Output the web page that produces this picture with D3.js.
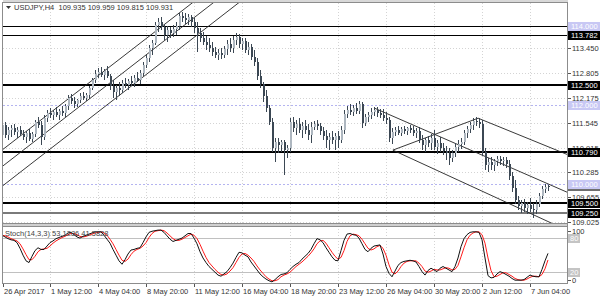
<!DOCTYPE html>
<html>
<head>
<meta charset="utf-8">
<script src="https://cdn.jsdelivr.net/npm/d3@7"></script>
<style>
  body { margin: 0; background: #fff; }
  svg text { font-family: "Liberation Sans", Arial, sans-serif; }
</style>
</head>
<body>
<script>
// ---- data ----
var symbolTitle = "USDJPY,H4  109.935 109.959 109.815 109.931";
var stochTitle = "Stoch(14,3,3) 53.1286 41.5828";

// H4 candles [open, high, low, close]
var candles = [
  [111.23,111.74,110.98,111.49],[111.49,111.56,111.16,111.23],[111.23,111.44,111.11,111.36],[111.36,111.49,111.18,111.41],
  [111.41,111.51,111.23,111.31],[111.31,111.44,111.16,111.36],[111.36,111.46,111.21,111.26],[111.26,111.36,111.11,111.18],
  [111.18,111.34,111.03,111.28],[111.28,111.39,111.08,111.13],[111.13,111.31,111.06,111.26],[111.26,111.61,111.18,111.56],
  [111.56,111.69,111.41,111.49],[111.49,111.59,110.98,111.18],[111.18,111.74,111.11,111.67],[111.67,111.87,111.56,111.79],
  [111.79,111.92,111.67,111.74],[111.74,111.87,111.61,111.82],[111.82,111.94,111.69,111.74],[111.74,111.89,111.61,111.84],
  [111.84,111.97,111.72,111.79],[111.79,112.02,111.69,111.97],[111.97,112.25,111.87,112.17],[112.17,112.27,112.02,112.10],
  [112.10,112.20,111.92,112.02],[112.02,112.15,111.94,112.12],[112.12,112.30,112.05,112.22],[112.22,112.32,112.12,112.17],
  [112.17,112.30,112.10,112.25],[112.25,112.48,112.15,112.43],[112.43,112.68,112.38,112.63],[112.63,112.88,112.55,112.78],
  [112.78,112.93,112.68,112.83],[112.83,112.96,112.71,112.76],[112.76,112.91,112.63,112.86],[112.86,112.99,112.68,112.73],
  [112.73,112.78,112.38,112.48],[112.48,112.63,112.17,112.32],[112.32,112.50,112.12,112.43],[112.43,112.58,112.22,112.38],
  [112.38,112.63,112.30,112.55],[112.55,112.68,112.43,112.50],[112.50,112.65,112.38,112.60],[112.60,112.73,112.48,112.55],
  [112.55,112.76,112.45,112.68],[112.68,112.83,112.58,112.63],[112.63,112.88,112.53,112.81],[112.81,113.09,112.73,113.01],
  [113.01,113.26,112.93,113.19],[113.19,113.52,113.09,113.44],[113.44,113.65,113.26,113.57],[113.57,114.10,113.52,114.03],
  [114.03,114.20,113.85,114.10],[114.10,114.23,113.90,113.97],[113.97,114.05,113.65,113.77],[113.77,114.00,113.59,113.90],
  [113.90,113.97,113.70,113.82],[113.82,114.03,113.72,113.92],[113.92,114.10,113.77,114.00],[114.00,114.33,113.90,114.25],
  [114.25,114.36,114.10,114.20],[114.20,114.33,114.05,114.15],[114.15,114.30,114.03,114.23],[114.23,114.28,113.97,114.10],
  [114.10,114.20,113.82,113.95],[113.95,114.10,113.34,113.82],[113.82,113.95,113.59,113.70],[113.70,113.85,113.52,113.59],
  [113.59,113.75,113.39,113.52],[113.52,113.70,113.34,113.44],[113.44,113.59,113.24,113.34],[113.34,113.47,113.19,113.26],
  [113.26,113.42,113.14,113.31],[113.31,113.44,113.16,113.26],[113.26,113.49,113.19,113.42],[113.42,113.65,113.26,113.54],
  [113.54,113.70,113.34,113.44],[113.44,113.75,113.31,113.65],[113.65,113.82,113.52,113.72],[113.72,113.80,113.44,113.54],
  [113.54,113.70,113.39,113.62],[113.62,113.70,113.31,113.39],[113.39,113.59,113.26,113.47],[113.47,113.54,113.14,113.21],
  [113.21,113.39,112.99,113.09],[113.09,113.19,112.63,112.73],[112.73,112.88,112.43,112.53],[112.53,112.58,112.07,112.22],
  [112.22,112.38,111.82,111.92],[111.92,112.00,111.49,111.56],[111.56,111.67,110.80,110.90],[110.90,111.16,110.55,111.06],
  [111.06,111.16,110.78,110.98],[110.98,111.11,110.80,111.06],[111.06,111.11,110.22,110.85],[110.85,110.98,110.65,110.90],
  [110.90,111.67,110.80,111.56],[111.56,111.69,111.31,111.41],[111.41,111.61,111.23,111.51],[111.51,111.67,111.28,111.36],
  [111.36,111.56,111.16,111.46],[111.46,111.61,111.26,111.36],[111.36,111.51,111.11,111.23],[111.23,111.56,111.03,111.44],
  [111.44,111.59,111.36,111.51],[111.51,111.61,111.36,111.46],[111.46,111.54,111.23,111.34],[111.34,111.44,111.11,111.21],
  [111.21,111.36,110.90,111.11],[111.11,111.28,110.85,111.18],[111.18,111.34,111.01,111.11],[111.11,111.28,110.85,111.21],
  [111.21,111.34,110.90,111.11],[111.11,111.46,111.03,111.36],[111.36,111.87,111.26,111.77],[111.77,111.97,111.67,111.87],
  [111.87,112.02,111.74,111.82],[111.82,112.00,111.72,111.92],[111.92,112.05,111.77,111.84],[111.84,112.10,111.77,112.02],
  [112.02,112.07,111.41,111.54],[111.54,111.77,111.46,111.69],[111.69,111.82,111.56,111.74],[111.74,111.92,111.64,111.82],
  [111.82,111.94,111.72,111.87],[111.87,111.94,111.69,111.79],[111.79,111.89,111.67,111.74],[111.74,111.89,111.59,111.67],
  [111.67,111.82,111.51,111.61],[111.61,111.69,111.06,111.16],[111.16,111.41,111.01,111.31],[111.31,111.44,111.21,111.36],
  [111.36,111.46,111.23,111.28],[111.28,111.44,111.21,111.39],[111.39,111.46,111.26,111.34],[111.34,111.44,111.23,111.41],
  [111.41,111.49,111.28,111.36],[111.36,111.46,111.21,111.28],[111.28,111.41,111.16,111.34],[111.34,111.44,111.03,111.11],
  [111.11,111.23,110.85,110.98],[110.98,111.16,110.80,111.11],[111.11,111.21,110.93,111.03],[111.03,111.26,110.85,111.16],
  [111.16,111.36,110.85,110.93],[110.93,111.11,110.75,111.03],[111.03,111.18,110.80,110.90],[110.90,111.03,110.73,110.83],
  [110.83,110.95,110.60,110.78],[110.78,110.90,110.47,110.65],[110.65,110.85,110.55,110.78],[110.78,111.03,110.68,110.93],
  [110.93,111.11,110.80,111.01],[111.01,111.16,110.88,111.06],[111.06,111.36,110.98,111.28],[111.28,111.46,111.16,111.39],
  [111.39,111.56,111.28,111.49],[111.49,111.67,111.36,111.59],[111.59,111.69,111.46,111.56],[111.56,111.67,111.41,111.51],
  [111.51,111.61,110.70,110.80],[110.80,110.90,110.35,110.47],[110.47,110.65,110.29,110.55],[110.55,110.68,110.35,110.47],
  [110.47,110.62,110.32,110.57],[110.57,110.70,110.45,110.62],[110.62,110.70,110.47,110.57],[110.57,110.68,110.45,110.60],
  [110.60,110.68,110.40,110.50],[110.50,110.60,110.09,110.19],[110.19,110.29,109.79,109.89],[109.89,110.09,109.48,109.58],
  [109.58,109.69,109.33,109.43],[109.43,109.58,109.25,109.51],[109.51,109.61,109.28,109.38],[109.38,109.53,109.23,109.46],
  [109.46,109.63,109.28,109.36],[109.36,109.51,109.13,109.33],[109.33,109.58,109.23,109.48],[109.48,109.76,109.41,109.69],
  [109.69,109.94,109.61,109.86],[109.86,109.99,109.76,109.91],[109.935,109.959,109.815,109.931]
];

// Stochastic %K (black) and %D (red)
var stochK = [85,82,79,77,76,72,62,50,40,37,48,58,63,60,60,66,72,75,79,81,83,85,89,90,86,82,80,83,85,87,
  89,91,91,91,85,78,71,60,50,40,34,42,52,59,60,62,63,72,82,90,92,93,94,94,90,84,78,74,76,78,
  80,84,88,88,80,70,56,45,37,30,25,20,15,13,17,21,28,36,46,55,54,50,47,38,31,24,17,12,8,5,
  3,7,12,16,17,19,25,30,34,37,43,48,53,60,70,79,77,72,63,55,47,41,40,58,76,87,88,86,85,80,
  70,60,56,62,66,67,68,52,30,18,12,22,32,37,39,40,41,40,38,30,21,15,23,27,24,21,27,30,27,24,
  21,30,45,65,79,86,90,91,91,90,77,45,14,10,11,17,21,19,16,13,9,6,6,6,7,11,15,13,12,12,
  25,40,53.13];
var stochD = [85,84,82,79,77,75,70,61,51,42,42,48,56,60,61,62,66,71,75,78,81,83,86,88,88,86,83,82,83,85,
  87,89,90,91,89,85,78,70,60,50,41,39,43,51,57,60,62,66,72,81,88,92,93,94,93,89,84,79,76,76,
  78,81,84,87,85,79,69,57,46,37,31,25,20,16,15,17,22,28,37,46,52,53,50,45,39,31,24,18,12,8,
  5,5,7,12,15,17,20,25,30,34,38,43,48,54,61,70,75,76,71,63,55,48,43,46,58,74,84,87,86,84,
  78,70,62,59,61,65,67,62,50,33,20,17,22,30,36,39,40,40,40,36,30,22,20,22,25,24,24,26,28,27,
  24,25,32,47,63,77,85,89,91,91,86,71,45,23,12,13,16,19,19,16,13,9,7,6,6,8,11,13,13,12,
  16,26,41.58];

// x axis labels every 16 bars
var dateLabels = ["26 Apr 2017","1 May 12:00","4 May 04:00","8 May 20:00","11 May 12:00","16 May 04:00",
  "18 May 20:00","23 May 12:00","26 May 04:00","30 May 20:00","2 Jun 12:00","7 Jun 04:00"];
var labelStep = 16;

var priceTicks = [113.450, 112.805, 112.175, 111.545, 110.915, 110.285, 109.655, 109.025];
var hLevels = [114.000, 113.782, 112.500, 110.790, 109.500, 109.250];   // drawn horizontal lines
var roundLevels = [114.000, 112.000, 110.000];                            // lavender levels
var lastPrice = 109.931;
var stochLevels = [80, 20];

// trend lines as [bar, price] pairs
var upChannel = [
  [[0, 110.85], [65, 114.68]],
  [[0, 110.43], [75, 114.86]],
  [[0, 109.93], [85, 114.95]]
];
var downChannel = [
  [[124.3, 111.91], [189, 109.76]],
  [[158.7, 111.66], [189, 110.72]],
  [[130.3, 110.85], [158.7, 111.66]],
  [[130.3, 110.85], [188.2, 108.82]]
];

// ---- layout ----
var W = 600, H = 300;
var left = 3, axisX = 567.5;
var mainTop = 3, mainBottom = 223.5;
var subTop = 226, subBottom = 283.5;

var svg = d3.select("body").append("svg")
    .attr("width", W)
    .attr("height", H);

var x = d3.scaleLinear().domain([0, 182]).range([2, 548]);
var y = d3.scaleLinear().domain([114, 109.025]).range([26, 222]);
var ys = d3.scaleLinear().domain([0, 100]).range([283.6, 226.7]);

var defs = svg.append("defs");
defs.append("clipPath").attr("id", "clipMain")
  .append("rect").attr("x", left).attr("y", mainTop).attr("width", axisX - left).attr("height", mainBottom - mainTop);
defs.append("clipPath").attr("id", "clipSub")
  .append("rect").attr("x", left).attr("y", subTop).attr("width", axisX - left).attr("height", subBottom - subTop);

var grid = svg.append("g").attr("shape-rendering", "crispEdges");

// vertical dotted grid at date labels
dateLabels.forEach(function(d, k) {
  if (k == 0) return;
  var xx = Math.round(x(k * labelStep)) + 0.5;
  grid.append("line").attr("x1", xx).attr("x2", xx).attr("y1", mainTop).attr("y2", mainBottom)
    .attr("stroke", "#d4d4d4").attr("stroke-dasharray", "1,2");
  grid.append("line").attr("x1", xx).attr("x2", xx).attr("y1", subTop).attr("y2", subBottom)
    .attr("stroke", "#d4d4d4").attr("stroke-dasharray", "1,2");
});

// horizontal dotted grid at price ticks
priceTicks.forEach(function(p) {
  var yy = Math.round(y(p)) + 0.5;
  grid.append("line").attr("x1", left).attr("x2", axisX).attr("y1", yy).attr("y2", yy)
    .attr("stroke", "#d4d4d4").attr("stroke-dasharray", "1,2");
});
roundLevels.forEach(function(p) {
  var yy = Math.round(y(p)) + 0.5;
  grid.append("line").attr("x1", left).attr("x2", axisX).attr("y1", yy).attr("y2", yy)
    .attr("stroke", "#b4b4f0").attr("stroke-dasharray", "2,2");
});

// stoch 80 / 20 levels
stochLevels.forEach(function(v) {
  var yy = Math.round(ys(v)) + 0.5;
  grid.append("line").attr("x1", left).attr("x2", axisX).attr("y1", yy).attr("y2", yy)
    .attr("stroke", "#c0c0c0");
});

// ---- main panel ----
var main = svg.append("g").attr("clip-path", "url(#clipMain)");

// horizontal support / resistance lines
main.selectAll("line.level")
  .data(hLevels)
  .join("line")
    .attr("class", "level")
    .attr("x1", left).attr("x2", axisX)
    .attr("y1", function(d, i) { return i < 2 ? Math.round(y(d)) + 0.5 : Math.round(y(d)); })
    .attr("y2", function(d, i) { return i < 2 ? Math.round(y(d)) + 0.5 : Math.round(y(d)); })
    .attr("stroke", function(d, i) { return i == hLevels.length - 1 ? "#7a7a7a" : "#000"; })
    .attr("stroke-width", function(d, i) { return i < 2 ? 1 : 2; })
    .attr("shape-rendering", "crispEdges");

// trend lines
var trend = d3.line()
  .x(function(d) { return x(d[0]); })
  .y(function(d) { return y(d[1]); });
main.selectAll("path.trend")
  .data(upChannel.concat(downChannel))
  .join("path")
    .attr("class", "trend")
    .attr("d", trend)
    .attr("fill", "none")
    .attr("stroke", "#222")
    .attr("stroke-width", 0.9);

// candles
var candleG = main.append("g").attr("shape-rendering", "crispEdges");
candleG.selectAll("line.wick")
  .data(candles)
  .join("line")
    .attr("class", "wick")
    .attr("x1", function(d, i) { return Math.round(x(i)) + 0.5; })
    .attr("x2", function(d, i) { return Math.round(x(i)) + 0.5; })
    .attr("y1", function(d) { return y(d[1]); })
    .attr("y2", function(d) { return y(d[2]); })
    .attr("stroke", "#3b4753");
candleG.selectAll("rect.body")
  .data(candles)
  .join("rect")
    .attr("class", "body")
    .attr("x", function(d, i) { return Math.round(x(i)); })
    .attr("width", 2)
    .attr("y", function(d) { return y(Math.max(d[0], d[3])); })
    .attr("height", function(d) { return Math.max(1, Math.abs(y(d[0]) - y(d[3]))); })
    .attr("fill", function(d) { return d[3] >= d[0] ? "#aeb7c0" : "#3b4753"; });

// ---- stochastic panel ----
var sub = svg.append("g").attr("clip-path", "url(#clipSub)");
var stochLine = d3.line()
  .x(function(d, i) { return x(i); })
  .y(function(d) { return ys(d); });
sub.append("path").datum(stochD)
  .attr("d", stochLine).attr("fill", "none").attr("stroke", "#ff1a1a").attr("stroke-width", 1);
sub.append("path").datum(stochK)
  .attr("d", stochLine).attr("fill", "none").attr("stroke", "#111").attr("stroke-width", 1);

// ---- frame ----
var frame = svg.append("g").attr("shape-rendering", "crispEdges");
frame.append("rect").attr("x", left).attr("y", 0).attr("width", axisX - left).attr("height", 2).attr("fill", "#d8d8d8");
frame.append("line").attr("x1", left - 1).attr("x2", axisX).attr("y1", 2.5).attr("y2", 2.5).attr("stroke", "#8c8c8c");
frame.append("rect").attr("x", left).attr("y", 223.5).attr("width", axisX - left).attr("height", 3).attr("fill", "#d0d0d0");
frame.append("line").attr("x1", left - 1).attr("x2", axisX).attr("y1", 223.5).attr("y2", 223.5).attr("stroke", "#8c8c8c");
frame.append("line").attr("x1", left - 1).attr("x2", axisX).attr("y1", 226.5).attr("y2", 226.5).attr("stroke", "#8c8c8c");
frame.append("line").attr("x1", left - 1).attr("x2", axisX).attr("y1", 283.5).attr("y2", 283.5).attr("stroke", "#8c8c8c");
frame.append("line").attr("x1", 2.5).attr("x2", 2.5).attr("y1", 2).attr("y2", 284).attr("stroke", "#8c8c8c");
frame.append("line").attr("x1", axisX).attr("x2", axisX).attr("y1", 2).attr("y2", 284).attr("stroke", "#8c8c8c");

// ---- right price axis ----
var axisG = svg.append("g").style("font-size", "7.5px");
priceTicks.forEach(function(p) {
  var yy = Math.round(y(p));
  axisG.append("line").attr("x1", axisX).attr("x2", axisX + 3).attr("y1", yy + 0.5).attr("y2", yy + 0.5)
    .attr("stroke", "#555").attr("shape-rendering", "crispEdges");
  axisG.append("text").attr("x", 572).attr("y", yy + 3).attr("fill", "#333").text(p.toFixed(3));
});

function priceBox(p, bg, fg, scale) {
  var yy = Math.round(scale(p));
  axisG.append("rect").attr("x", 568).attr("y", yy - 4.5).attr("width", 32).attr("height", 9)
    .attr("fill", bg).attr("shape-rendering", "crispEdges");
  axisG.append("text").attr("x", 571).attr("y", yy + 3).attr("fill", fg)
    .text(scale === y ? p.toFixed(3) : p);
}
priceBox(lastPrice, "#6e6e6e", "#e0e0e0", y);
roundLevels.forEach(function(p) { priceBox(p, "#c8c8f4", "#ffffff", y); });
// the 114.000 line keeps its lavender round-level label
hLevels.forEach(function(p) {
  if (roundLevels.indexOf(p) >= 0) return;
  priceBox(p, "#000", "#fff", y);
});

// stoch axis
[100, 0].forEach(function(v) {
  var yy = v == 100 ? 231 : 280;
  axisG.append("line").attr("x1", axisX).attr("x2", axisX + 3).attr("y1", yy + 0.5).attr("y2", yy + 0.5)
    .attr("stroke", "#555").attr("shape-rendering", "crispEdges");
  axisG.append("text").attr("x", 572).attr("y", yy + 3).attr("fill", "#333").text(v);
});
stochLevels.forEach(function(v) {
  var yy = Math.round(ys(v));
  axisG.append("rect").attr("x", 568).attr("y", yy - 4.5).attr("width", 12).attr("height", 9)
    .attr("fill", "#c4c4c4").attr("shape-rendering", "crispEdges");
  axisG.append("text").attr("x", 570).attr("y", yy + 3).attr("fill", "#fff").text(v);
});

// ---- bottom date axis ----
var dateG = svg.append("g").style("font-size", "7.5px");
dateLabels.forEach(function(d, k) {
  var xx = Math.round(x(k * labelStep));
  if (k == 0) xx = 3;
  dateG.append("line").attr("x1", xx + 0.5).attr("x2", xx + 0.5).attr("y1", 284).attr("y2", 287)
    .attr("stroke", "#555").attr("shape-rendering", "crispEdges");
  dateG.append("text").attr("x", xx + 1).attr("y", 294).attr("fill", "#333").text(d);
});

// ---- titles ----
svg.append("path")
  .attr("d", "M6,6 L11,6 L8.5,9 Z")
  .attr("fill", "#333");
svg.append("text").attr("x", 14).attr("y", 10)
  .style("font-size", "7.5px").style("white-space", "pre").attr("fill", "#333")
  .text(symbolTitle);
svg.append("text").attr("x", 5).attr("y", 236)
  .style("font-size", "7.5px").attr("fill", "#444")
  .text(stochTitle);
</script>
</body>
</html>
